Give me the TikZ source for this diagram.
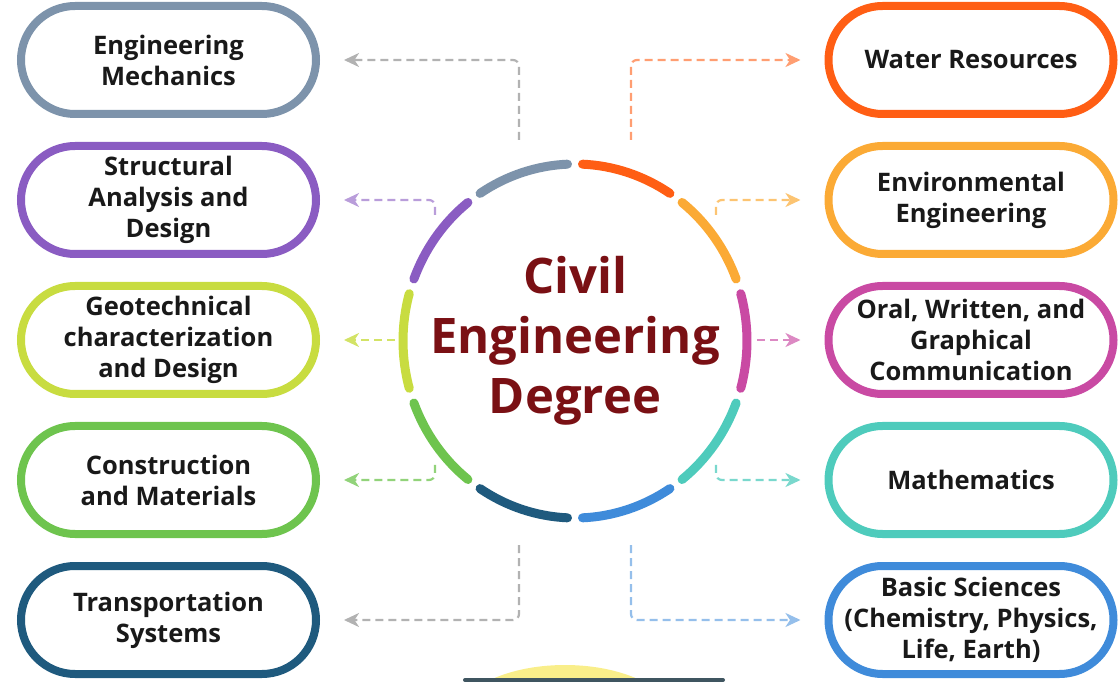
\documentclass[tikz,border=0pt]{standalone}
\usepackage{fontspec}
\setmainfont{Open Sans}
\usepackage{xcolor}
\usepackage{tikz}
\usetikzlibrary{shapes,shadows,arrows.meta,calc}

\definecolor{cMech}{HTML}{7D93AB}
\definecolor{cStruct}{HTML}{8A5CC2}
\definecolor{cGeo}{HTML}{C8DC40}
\definecolor{cConstr}{HTML}{6EC44E}
\definecolor{cTransp}{HTML}{1F5A7E}
\definecolor{cWater}{HTML}{FF5E14}
\definecolor{cEnv}{HTML}{FBAA35}
\definecolor{cOral}{HTML}{C94AA3}
\definecolor{cMath}{HTML}{4ECBBC}
\definecolor{cBasic}{HTML}{3F8BDA}
\definecolor{cTitle}{HTML}{7A1014}
\definecolor{cGlow}{HTML}{F9EE8A}
\definecolor{cBottom}{HTML}{3F5560}

\tikzstyle{tsBoldText} = [
    text=black!90,
    font=\bfseries\fontsize{25.5}{31}\selectfont
]
\tikzstyle{tsTopic} = [
    rectangle,
    tsBoldText,
    align=center,
    rounded corners=54pt,
    minimum height=108pt,
    line width=8pt,
    fill=white,
    drop shadow={opacity=0.12, shadow xshift=1pt, shadow yshift=-2pt}]
\tikzstyle{tsLeft} = [tsTopic, minimum width=295pt]
\tikzstyle{tsRight} = [tsTopic, minimum width=285pt]
\tikzstyle{tsLink} = [
    dash pattern=on 8pt off 5pt,
    line width=2.2pt,
    rounded corners=6pt,
    shorten >=24pt,
    -{Stealth[length=15pt,width=14pt,inset=4.5pt]}]
\tikzstyle{tsRing} = [line width=9pt, line cap=round]

\begin{document}
\begin{tikzpicture}[x=1pt, y=1pt]

    \useasboundingbox (0,0) rectangle (1120,681);
    \clip (0,0) rectangle (1120,681);

    % partly hidden element at the bottom
    \fill[cGlow] (565,-40) ellipse [x radius=110, y radius=56];
    \draw[line width=4pt, cBottom, line cap=round] (465,1) -- (723,1);

    % topics on the left
    \node[tsLeft, draw=cMech]   (mech)   at (168.5,621) {Engineering\\Mechanics};
    \node[tsLeft, draw=cStruct] (struct) at (168.5,481) {Structural\\Analysis and\\Design};
    \node[tsLeft, draw=cGeo]    (geo)    at (168.5,341) {Geotechnical\\characterization\\and Design};
    \node[tsLeft, draw=cConstr] (constr) at (168.5,201) {Construction\\and Materials};
    \node[tsLeft, draw=cTransp] (transp) at (168.5,61)  {Transportation\\Systems};

    % topics on the right
    \node[tsRight, draw=cWater] (water) at (971,621) {Water Resources};
    \node[tsRight, draw=cEnv]   (env)   at (971,481) {Environmental\\Engineering};
    \node[tsRight, draw=cOral]  (oral)  at (971,341) {Oral, Written, and\\Graphical\\Communication};
    \node[tsRight, draw=cMath]  (math)  at (971,201) {Mathematics};
    \node[tsRight, draw=cBasic] (basic) at (971,61)  {Basic Sciences\\(Chemistry, Physics,\\Life, Earth)};

    % centre
    \node[text=cTitle, align=center,
          font=\bfseries\fontsize{49}{60}\selectfont] (hub) at (575,340)
          {Civil\\Engineering\\Degree};

    \foreach \c/\col in {0/cOral, 36/cEnv, 72/cWater, 108/cMech, 144/cStruct,
                         180/cGeo, 216/cConstr, 252/cTransp, 288/cBasic, 324/cMath}
        \draw[tsRing, \col] ($(hub.center)+(\c-15.5:172 and 177)$)
            arc[start angle=\c-15.5, end angle=\c+15.5, x radius=172, y radius=177];

    % start points of the links
    \coordinate (sMech)   at (519,541);
    \coordinate (sStruct) at (435,466);
    \coordinate (sGeo)    at (395,341);
    \coordinate (sConstr) at (435,216);
    \coordinate (sTransp) at (519,136);
    \coordinate (sWater)  at (631,541);
    \coordinate (sEnv)    at (716,466);
    \coordinate (sOral)   at (757,341);
    \coordinate (sMath)   at (716,216);
    \coordinate (sBasic)  at (631,136);

    \draw[tsLink, black!30]        (sMech)   |- (mech.east);
    \draw[tsLink, cStruct!60]      (sStruct) |- (struct.east);
    \draw[tsLink, cGeo!80]         (sGeo)    -- (geo.east);
    \draw[tsLink, cConstr!75]      (sConstr) |- (constr.east);
    \draw[tsLink, black!30]        (sTransp) |- (transp.east);
    \draw[tsLink, cWater!60]       (sWater)  |- (water.west);
    \draw[tsLink, cEnv!70]         (sEnv)    |- (env.west);
    \draw[tsLink, cOral!65]        (sOral)   -- (oral.west);
    \draw[tsLink, cMath!75]        (sMath)   |- (math.west);
    \draw[tsLink, cBasic!55]       (sBasic)  |- (basic.west);

\end{tikzpicture}
\end{document}
